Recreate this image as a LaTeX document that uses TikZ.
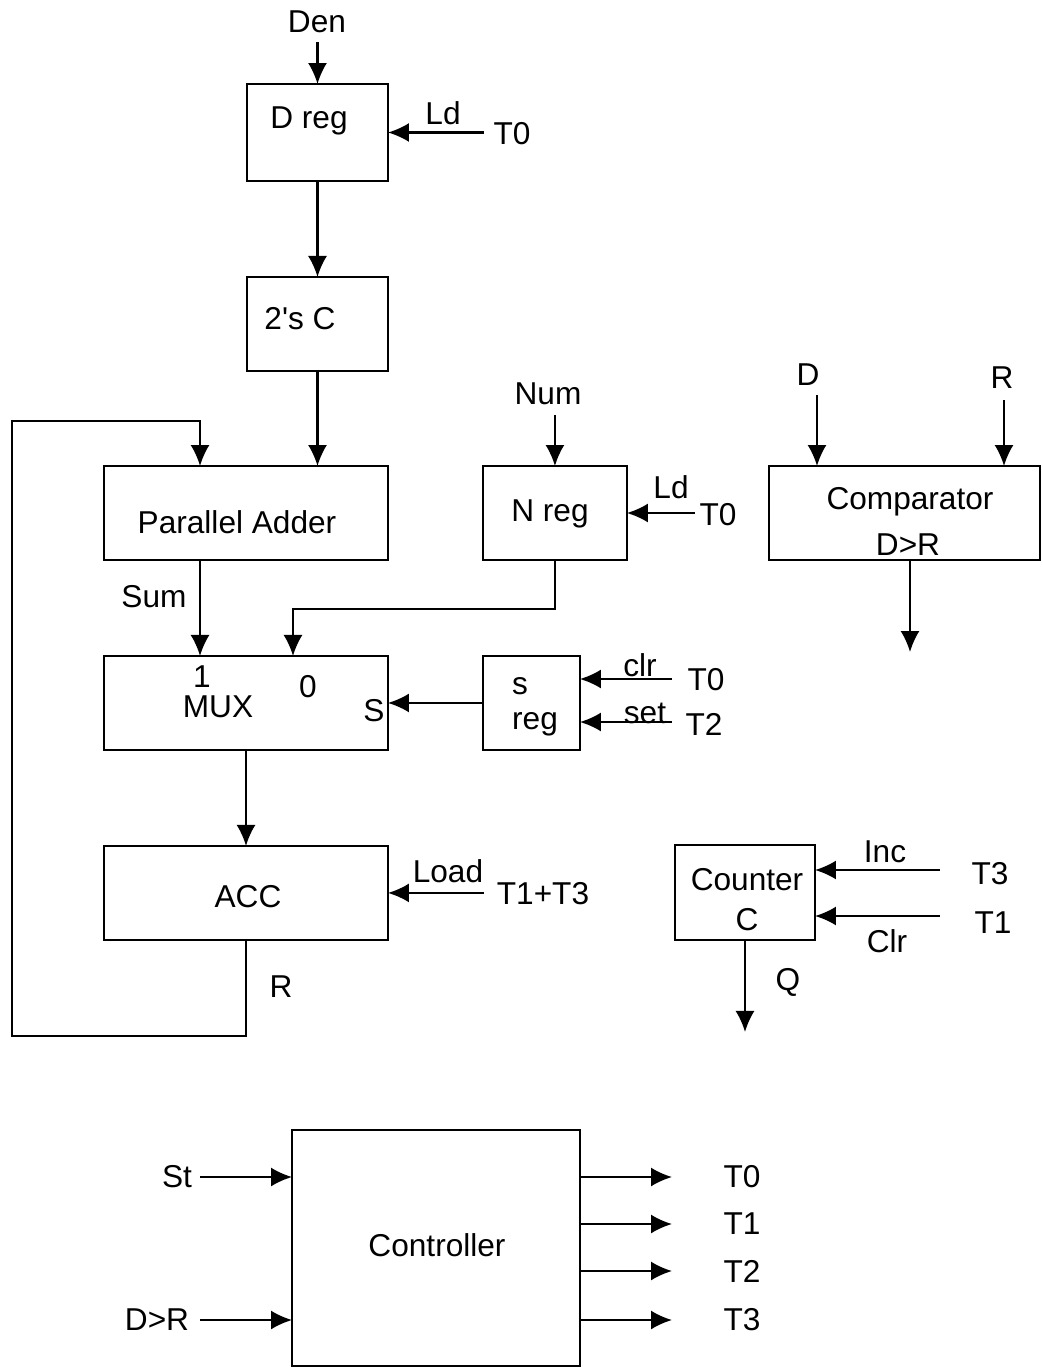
\documentclass[tikz,border=0pt]{standalone}
\usepackage{fontspec}
\setmainfont{Liberation Sans}
\usetikzlibrary{arrows.meta, positioning}

\begin{document}
\begin{tikzpicture}[x=0.02cm, y=-0.02cm, line width=1.2pt,
        >={Latex[length=4.2mm, width=3.8mm]},
        every node/.style={font=\fontsize{18}{21}\selectfont, inner sep=1pt},
        blk/.style={draw, inner sep=0pt, outer sep=0pt, minimum height=1.88cm}]
        \useasboundingbox (0,0) rectangle (1042,1368);

        % datapath blocks
        \node[blk, minimum width=2.82cm, minimum height=1.94cm] (dreg) at (317.5,132.5) {};
        \node[blk, minimum width=2.82cm] (twosc) [below=1.92cm of dreg] {};
        \node[blk, minimum width=5.68cm] (adder) at (246,513) {};
        \node[blk, minimum width=2.88cm] (nreg) [right=1.9cm of adder] {};
        \node[blk, minimum width=5.42cm] (comp) at (904.5,513) {};
        \node[blk, minimum width=5.68cm] (mux) [below=1.92cm of adder] {};
        \node[blk, minimum width=1.94cm] (sreg) [right=1.9cm of mux] {};
        \node[blk, minimum width=5.68cm] (acc) [below=1.92cm of mux] {};
        \node[blk, minimum width=2.8cm, minimum height=1.9cm] (cnt) at (745,892.5) {};
        \node[blk, minimum width=5.76cm, minimum height=4.72cm] (ctrl) at (436,1248) {};

        % texts in the blocks
        \node (dregt) at (309,121) {D reg};
        \node (twosct) at (300,319) {2\textquotesingle s C};
        \node (addert) at (237,522) {Parallel Adder};
        \node (nregt) at (550,514) {N reg};
        \node (compt) at (910,502) {Comparator};
        \node (compo) at (908,545) {D>R};
        \node (mux1) at (202,677) {1};
        \node (muxt) at (218,707) {MUX};
        \node (mux0) at (308,687) {0};
        \node (muxs) at (374,711) {S};
        \node (sregs) at (520,686) {s};
        \node (sregt) at (535,724) {reg};
        \node (acct) at (248,897) {ACC};
        \node (cntt) at (747,880) {Counter};
        \node (cntc) at (747,920) {C};
        \node (ctrlt) at (437,1245) {Controller};

        % free ends
        \coordinate (den) at ([yshift=0.84cm]dreg.north);
        \coordinate (dld) at ([xshift=1.92cm]dreg.east);
        \coordinate (num) at ([yshift=1.02cm]nreg.north);
        \coordinate (nld) at ([xshift=1.36cm]nreg.east);
        \coordinate (cd) at (817,395);
        \coordinate (cr) at (1004,400);
        \coordinate (cout) at (910,652);
        \coordinate (sclr) at (672,679);
        \coordinate (sset) at (672,722);
        \coordinate (aload) at ([xshift=1.92cm]acc.east);
        \coordinate (cinc) at (940,870);
        \coordinate (cclr) at (940,916);
        \coordinate (cq) at ([yshift=-1.84cm]cnt.south);
        \coordinate (fbl) at (12,1036);
        \coordinate (fbt) at (12,421);
        \coordinate (st) at (200,1177);
        \coordinate (dgr) at (200,1320);

        \path[->]
        (den) edge (dreg.north)
        (dld) edge (dreg.east)
        (dreg.south) edge (twosc.north)
        (twosc.south) edge (twosc.south |- adder.north)
        (num) edge (nreg.north)
        (nld) edge (nreg.east)
        (cd) edge (cd |- comp.north)
        (cr) edge (cr |- comp.north)
        (cout |- comp.south) edge (cout)
        ([xshift=-0.92cm]adder.south) edge ([xshift=-0.92cm]mux.north)
        (sreg.west) edge (mux.east)
        (sclr) edge (sclr -| sreg.east)
        (sset) edge (sset -| sreg.east)
        (mux.south) edge (acc.north)
        (aload) edge (acc.east)
        (cinc) edge (cinc -| cnt.east)
        (cclr) edge (cclr -| cnt.east)
        (cnt.south) edge (cq)
        (st) edge (st -| ctrl.west)
        (dgr) edge (dgr -| ctrl.west);

        \draw[->] (nreg.south) -- ++(0,-0.98cm) -| ([xshift=0.94cm]mux.north);
        \draw[->] (acc.south) |- (fbl) -- (fbt) -| ([xshift=-0.92cm]adder.north);

        \foreach \y/\t in {1177/T0, 1224/T1, 1271/T2, 1320/T3}{
            \coordinate (o\t) at (672,\y);
            \draw[->] (o\t -| ctrl.east) -- (o\t);
            \node (l\t) at (742,\y) {\t};
        }

        % signal labels
        \node (denl) at (317,22) {Den};
        \node (dldl) at (443,113) {Ld};
        \node (dt0) at (512,134) {T0};
        \node (numl) at (548,394) {Num};
        \node (nldl) at (671,487) {Ld};
        \node (nt0) at (718,515) {T0};
        \node (cdl) at (808,375) {D};
        \node (crl) at (1002,378) {R};
        \node (suml) at (154,597) {Sum};
        \node (clrl) at (640,665) {clr};
        \node (st0) at (706,680) {T0};
        \node (setl) at (645,713) {set};
        \node (st2) at (704,724) {T2};
        \node (loadl) at (448,871) {Load};
        \node (at13) at (543,894) {T1+T3};
        \node (accr) at (281,987) {R};
        \node (incl) at (885,852) {Inc};
        \node (ct3) at (990,874) {T3};
        \node (cclrl) at (887,941) {Clr};
        \node (ct1) at (993,923) {T1};
        \node (ql) at (788,982) {Q};
        \node (stl) at (177,1177) {St};
        \node (dgrl) at (157,1320) {D>R};
\end{tikzpicture}
\end{document}
